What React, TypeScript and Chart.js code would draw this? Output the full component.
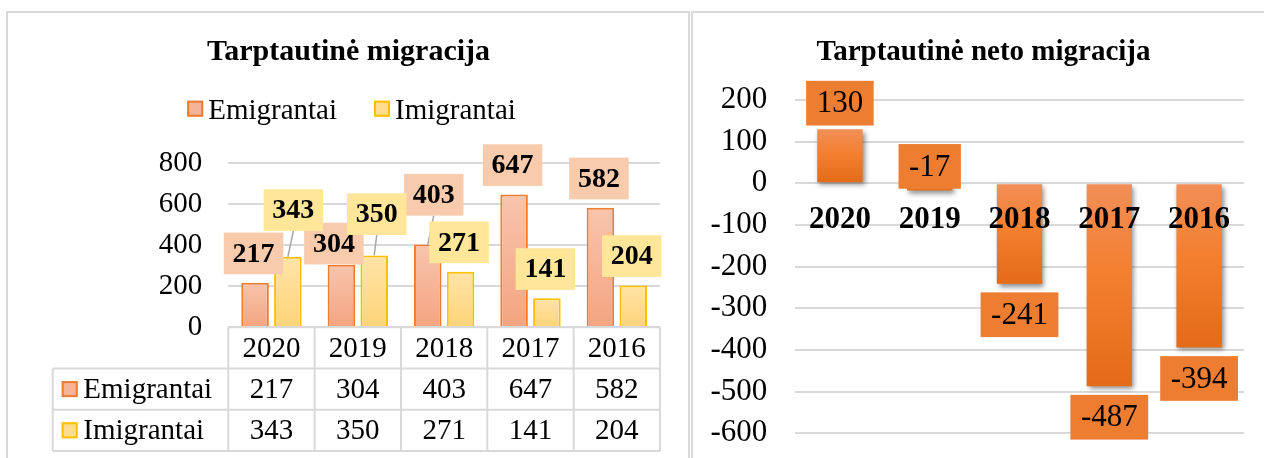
import React, { useEffect, useRef } from 'react';
import { Chart, registerables } from 'chart.js';

Chart.register(...registerables);

// ---------- data ----------
const categories = ['2020', '2019', '2018', '2017', '2016'];
const seriesNames = ['Emigrantai', 'Imigrantai'];
const emigrants = [217, 304, 403, 647, 582];
const immigrants = [343, 350, 271, 141, 204];
const netMigration = [130, -17, -241, -487, -394];
const leftTitle = 'Tarptautinė migracija';
const rightTitle = 'Tarptautinė neto migracija';
const leftAxis = { min: 0, max: 800, step: 200 };
const rightAxis = { min: -600, max: 200, step: 100 };

// ---------- styles ----------
const FONT = "'Times New Roman', 'Liberation Serif', serif";
const GRID = '#d9d9d9';
const barBorders = ['#ed7d31', '#ffc000'];
const swatchFills = ['#f5b397', '#ffdc90'];
const labelFills = ['#f8cbad', '#ffe699'];
const leftStops: [number, string][][] = [
  [[0, '#f8c5ad'], [1, '#f4a480']],
  [[0, '#ffe4a8'], [1, '#ffd479']],
];
const rightStops: [number, string][] = [[0, '#f18f58'], [0.45, '#f47f2e'], [1, '#e36b1a']];

// label placement tweaks (Excel-like collision avoidance), key: dataset-index
const leftNudges: Record<string, { dx: number; dy: number; leader?: boolean }> = {
  '1-0': { dx: 7, dy: -17.5, leader: true },
  '0-1': { dx: -6, dy: 8 },
  '1-1': { dx: 4, dy: -12, leader: true },
  '0-2': { dx: 7.5, dy: -20.5, leader: true },
};
const rightNudges: Record<number, { dx: number; dy: number }> = {
  1: { dx: 0, dy: -55 },
};

function barGradient(stops: [number, string][]) {
  return (c: any) => {
    const chart = c.chart;
    if (c.type !== 'data' || !chart.chartArea) return stops[0][1];
    const ys = chart.scales.y;
    const v = c.raw as number;
    const p0 = ys.getPixelForValue(0);
    const p1 = ys.getPixelForValue(v);
    const t = Math.min(p0, p1);
    const b = Math.max(p0, p1);
    if (b - t < 1) return stops[0][1];
    const g = chart.ctx.createLinearGradient(0, t, 0, b);
    stops.forEach(([o, col]) => g.addColorStop(o, col));
    return g;
  };
}

function swatch(ctx: CanvasRenderingContext2D, x: number, y: number, s: number, fill: string, stroke: string) {
  ctx.fillStyle = fill;
  ctx.fillRect(x, y, s, s);
  ctx.strokeStyle = stroke;
  ctx.lineWidth = 2;
  ctx.strokeRect(x + 1, y + 1, s - 2, s - 2);
}

function line(ctx: CanvasRenderingContext2D, x1: number, y1: number, x2: number, y2: number) {
  ctx.beginPath();
  ctx.moveTo(x1, y1);
  ctx.lineTo(x2, y2);
  ctx.stroke();
}

const leftDecor = {
  id: 'leftDecor',
  afterDraw(chart: any) {
    const { ctx, chartArea, scales, width } = chart;
    const xs = scales.x;
    ctx.save();
    // title
    ctx.fillStyle = '#000';
    ctx.font = `bold 30px ${FONT}`;
    ctx.textAlign = 'center';
    ctx.textBaseline = 'alphabetic';
    ctx.fillText(leftTitle, width / 2, 47.5);

    // legend
    ctx.font = `29px ${FONT}`;
    const box = 16, gapText = 5, gapItem = 37;
    const widths = seriesNames.map((n) => ctx.measureText(n).width);
    const total = widths.reduce((a, w) => a + box + gapText + w, 0) + gapItem * (seriesNames.length - 1);
    let lx = width / 2 - total / 2 + 3;
    ctx.textAlign = 'left';
    seriesNames.forEach((n, i) => {
      swatch(ctx, lx, 88.7, box, swatchFills[i], barBorders[i]);
      ctx.fillStyle = '#000';
      ctx.fillText(n, lx + box + gapText, 107.2);
      lx += box + gapText + widths[i] + gapItem;
    });

    // data table
    const rowH = 41.2;
    const top = chartArea.bottom;
    const left0 = chartArea.left - 175.6;
    const colW = (chartArea.right - chartArea.left) / categories.length;
    ctx.strokeStyle = GRID;
    ctx.lineWidth = 2;
    line(ctx, chartArea.left, top, chartArea.right, top);
    for (let r = 1; r <= 3; r++) line(ctx, left0, top + r * rowH, chartArea.right, top + r * rowH);
    for (let c = 0; c <= categories.length; c++) {
      const xx = chartArea.left + c * colW;
      line(ctx, xx, top, xx, top + 3 * rowH);
    }
    line(ctx, left0, top + rowH, left0, top + 3 * rowH);

    ctx.fillStyle = '#000';
    ctx.font = `29px ${FONT}`;
    ctx.textAlign = 'center';
    ctx.textBaseline = 'middle';
    categories.forEach((c, i) => ctx.fillText(c, xs.getPixelForValue(i), top + rowH / 2 + 1));
    [emigrants, immigrants].forEach((vals, r) => {
      const cy = top + rowH * (r + 1) + rowH / 2;
      ctx.fillStyle = '#000';
      ctx.textAlign = 'center';
      vals.forEach((v, i) => ctx.fillText(String(v), xs.getPixelForValue(i), cy + 1));
      swatch(ctx, left0 + 9, cy - 8, 16, swatchFills[r], barBorders[r]);
      ctx.fillStyle = '#000';
      ctx.textAlign = 'left';
      ctx.fillText(seriesNames[r], left0 + 30.6, cy + 1);
    });

    // data labels
    ctx.font = `bold 28px ${FONT}`;
    const items: any[] = [];
    [0, 1].forEach((d) => {
      const meta = chart.getDatasetMeta(d);
      const vals = d === 0 ? emigrants : immigrants;
      meta.data.forEach((el: any, i: number) => {
        const n = leftNudges[`${d}-${i}`] || { dx: 0, dy: 0 };
        const txt = String(vals[i]);
        const w = ctx.measureText(txt).width + 17.5;
        const h = 41.7;
        const cx = el.x - 1.5 + n.dx;
        const cy = el.y - 29.3 + n.dy;
        items.push({ d, el, n, txt, w, h, cx, cy });
      });
    });
    ctx.strokeStyle = '#a6a6a6';
    ctx.lineWidth = 1.5;
    items.forEach((it) => {
      if (it.n.leader) line(ctx, it.el.x, it.el.y, it.cx, it.cy + it.h / 2);
    });
    ctx.textAlign = 'center';
    ctx.textBaseline = 'middle';
    items.forEach((it) => {
      ctx.fillStyle = labelFills[it.d];
      ctx.fillRect(it.cx - it.w / 2, it.cy - it.h / 2, it.w, it.h);
      ctx.fillStyle = '#000';
      ctx.fillText(it.txt, it.cx, it.cy + 1);
    });
    ctx.restore();
  },
};

const rightDecor = {
  id: 'rightDecor',
  beforeDatasetsDraw(chart: any) {
    const ctx = chart.ctx;
    ctx.save();
    ctx.shadowColor = 'rgba(0,0,0,0.45)';
    ctx.shadowBlur = 5;
    ctx.shadowOffsetX = 2;
    ctx.shadowOffsetY = 3;
  },
  afterDatasetsDraw(chart: any) {
    chart.ctx.restore();
  },
  afterDraw(chart: any) {
    const { ctx, width, scales } = chart;
    const xs = scales.x;
    const ys = scales.y;
    ctx.save();
    ctx.fillStyle = '#000';
    ctx.font = `bold 29px ${FONT}`;
    ctx.textAlign = 'center';
    ctx.textBaseline = 'alphabetic';
    ctx.fillText(rightTitle, width / 2, 47.5);

    // category labels sitting just below the zero line, above the bars
    const zeroY = ys.getPixelForValue(0);
    ctx.font = `bold 31px ${FONT}`;
    ctx.textBaseline = 'middle';
    categories.forEach((c, i) => ctx.fillText(c, xs.getPixelForValue(i), zeroY + 37));

    // data labels
    ctx.font = `31px ${FONT}`;
    const meta = chart.getDatasetMeta(0);
    meta.data.forEach((el: any, i: number) => {
      const v = netMigration[i];
      const n = rightNudges[i] || { dx: 0, dy: 0 };
      const txt = String(v);
      const w = ctx.measureText(txt).width + 21;
      const h = 44.7;
      const cx = el.x + n.dx;
      const cy = (v >= 0 ? el.y - 26 : el.y + 31) + n.dy;
      ctx.fillStyle = '#ed7d31';
      ctx.fillRect(cx - w / 2, cy - h / 2, w, h);
      ctx.fillStyle = '#000';
      ctx.fillText(txt, cx, cy + 1);
    });
    ctx.restore();
  },
};

function fixYAxis(width: number) {
  return (s: any) => {
    s.width = width;
    s.paddingTop = 0;
    s.paddingBottom = 0;
  };
}

function leftConfig(): any {
  return {
    type: 'bar',
    data: {
      labels: categories,
      datasets: [
        {
          label: seriesNames[0],
          data: emigrants,
          backgroundColor: barGradient(leftStops[0]),
          borderColor: barBorders[0],
          borderWidth: 2,
          categoryPercentage: 0.76,
          barPercentage: 0.84,
        },
        {
          label: seriesNames[1],
          data: immigrants,
          backgroundColor: barGradient(leftStops[1]),
          borderColor: barBorders[1],
          borderWidth: 2,
          categoryPercentage: 0.76,
          barPercentage: 0.84,
        },
      ],
    },
    options: {
      responsive: false,
      animation: false,
      devicePixelRatio: 1,
      layout: { padding: { left: 0, right: 30, top: 151, bottom: 130.7 } },
      plugins: { legend: { display: false }, title: { display: false }, tooltip: { enabled: false } },
      scales: {
        x: { display: false },
        y: {
          min: leftAxis.min,
          max: leftAxis.max,
          ticks: { stepSize: leftAxis.step, padding: 26, color: '#000', font: { family: FONT, size: 29 } },
          grid: { color: GRID, lineWidth: 2, drawTicks: false },
          border: { display: false },
          afterFit: fixYAxis(221.3),
        },
      },
    },
    plugins: [leftDecor],
  };
}

function rightConfig(): any {
  return {
    type: 'bar',
    data: {
      labels: categories,
      datasets: [
        {
          label: 'Neto migracija',
          data: netMigration,
          backgroundColor: barGradient(rightStops),
          borderWidth: 0,
          categoryPercentage: 0.505,
          barPercentage: 1,
        },
      ],
    },
    options: {
      responsive: false,
      animation: false,
      devicePixelRatio: 1,
      layout: { padding: { left: 0, right: 31, top: 88, bottom: 24.7 } },
      plugins: { legend: { display: false }, title: { display: false }, tooltip: { enabled: false } },
      scales: {
        x: { display: false },
        y: {
          min: rightAxis.min,
          max: rightAxis.max,
          ticks: { stepSize: rightAxis.step, padding: 27.7, color: '#000', font: { family: FONT, size: 31 } },
          grid: { color: GRID, lineWidth: 2, drawTicks: false },
          border: { display: false },
          afterFit: fixYAxis(103),
        },
      },
    },
    plugins: [rightDecor],
  };
}

function ChartCanvas({ make, left, top, width, height }: any) {
  const ref = useRef<HTMLCanvasElement>(null);
  useEffect(() => {
    const chart = new Chart(ref.current as HTMLCanvasElement, make());
    return () => chart.destroy();
  }, []);
  return (
    <canvas
      ref={ref}
      width={width}
      height={height}
      style={{ position: 'absolute', left, top, width, height, display: 'block' }}
    />
  );
}

export default function App() {
  return (
    <div
      style={{
        position: 'fixed',
        left: 0,
        top: 0,
        width: 1264,
        height: 458,
        overflow: 'hidden',
        background: '#fff',
      }}
    >
      <div
        style={{
          position: 'absolute',
          left: 6,
          top: 11,
          width: 684,
          height: 520,
          border: `2px solid ${GRID}`,
          boxSizing: 'border-box',
        }}
      />
      <div
        style={{
          position: 'absolute',
          left: 691,
          top: 11,
          width: 620,
          height: 520,
          border: `2px solid ${GRID}`,
          boxSizing: 'border-box',
        }}
      />
      <ChartCanvas make={leftConfig} left={7} top={12} width={683} height={446} />
      <ChartCanvas make={rightConfig} left={692} top={12} width={583} height={446} />
    </div>
  );
}
